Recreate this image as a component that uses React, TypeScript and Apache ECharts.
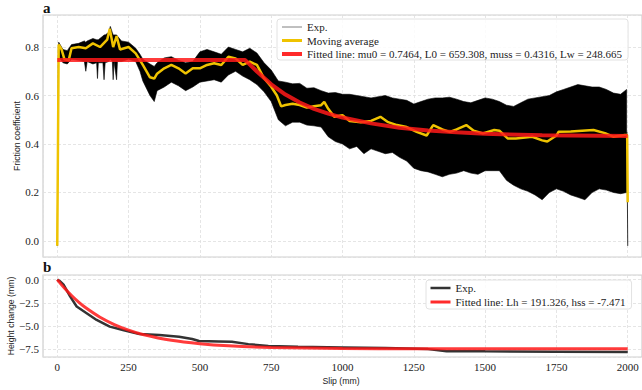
import React, { useEffect, useRef } from 'react';
import * as echarts from 'echarts';

// ---------- Panel a: friction coefficient ----------
// Envelope of the raw (Exp.) signal
const expSlip = [5, 20, 35, 50, 75, 95, 100, 105, 125, 138, 141, 144, 160, 164, 168, 180, 186, 193, 196, 199, 208, 211, 225, 250, 275, 290, 300, 325, 340, 350, 375, 400, 425, 450, 475, 500, 525, 550, 575, 600, 625, 650, 675, 700, 725, 750, 775, 800, 825, 850, 875, 900, 925, 950, 975, 1000, 1025, 1050, 1075, 1100, 1125, 1150, 1175, 1200, 1225, 1250, 1275, 1300, 1325, 1350, 1375, 1400, 1425, 1450, 1475, 1500, 1525, 1550, 1575, 1600, 1625, 1650, 1675, 1700, 1725, 1750, 1775, 1800, 1825, 1850, 1875, 1900, 1925, 1950, 1975, 1996];
const expHigh = [0.82, 0.79, 0.785, 0.81, 0.815, 0.825, 0.82, 0.825, 0.835, 0.83, 0.83, 0.83, 0.845, 0.85, 0.85, 0.86, 0.885, 0.86, 0.85, 0.85, 0.85, 0.845, 0.825, 0.82, 0.795, 0.77, 0.75, 0.73, 0.72, 0.735, 0.755, 0.76, 0.745, 0.735, 0.74, 0.78, 0.79, 0.78, 0.77, 0.8, 0.79, 0.78, 0.795, 0.775, 0.735, 0.705, 0.66, 0.655, 0.648, 0.65, 0.63, 0.632, 0.62, 0.61, 0.612, 0.605, 0.605, 0.6, 0.595, 0.59, 0.595, 0.6, 0.59, 0.585, 0.58, 0.565, 0.575, 0.585, 0.59, 0.59, 0.593, 0.585, 0.575, 0.57, 0.58, 0.59, 0.585, 0.575, 0.56, 0.555, 0.57, 0.585, 0.59, 0.595, 0.6, 0.615, 0.625, 0.635, 0.645, 0.64, 0.635, 0.635, 0.625, 0.61, 0.605, 0.625];
const expLow = [0.76, 0.735, 0.73, 0.75, 0.745, 0.74, 0.7, 0.74, 0.73, 0.735, 0.67, 0.735, 0.735, 0.665, 0.735, 0.74, 0.75, 0.74, 0.665, 0.74, 0.665, 0.74, 0.74, 0.75, 0.74, 0.7, 0.66, 0.6, 0.575, 0.62, 0.635, 0.655, 0.64, 0.62, 0.635, 0.655, 0.66, 0.665, 0.655, 0.685, 0.7, 0.68, 0.665, 0.645, 0.615, 0.575, 0.5, 0.475, 0.49, 0.49, 0.478, 0.475, 0.47, 0.43, 0.41, 0.4, 0.38, 0.39, 0.36, 0.38, 0.37, 0.36, 0.365, 0.345, 0.33, 0.3, 0.29, 0.285, 0.275, 0.265, 0.275, 0.28, 0.29, 0.28, 0.275, 0.29, 0.29, 0.29, 0.25, 0.23, 0.215, 0.205, 0.19, 0.17, 0.2, 0.215, 0.205, 0.19, 0.18, 0.17, 0.2, 0.215, 0.21, 0.2, 0.195, 0.2];
// Start and end transients of the raw signal
const expEdgeSlip = [0, 4, 1997, 2000];
const expEdgeValue = [-0.02, 0.8, 0.45, -0.02];

const maSlip = [0, 5, 15, 25, 40, 50, 75, 100, 125, 150, 175, 184, 196, 208, 220, 250, 275, 300, 325, 340, 350, 375, 400, 425, 450, 475, 500, 525, 550, 575, 600, 625, 650, 675, 700, 725, 750, 770, 785, 800, 825, 850, 875, 900, 925, 936, 950, 971, 1000, 1025, 1064, 1100, 1133, 1160, 1191, 1225, 1260, 1295, 1318, 1350, 1376, 1400, 1434, 1460, 1492, 1532, 1550, 1579, 1608, 1665, 1700, 1718, 1750, 1758, 1800, 1840, 1880, 1920, 1949, 1990, 1998, 2000];
const maValue = [-0.02, 0.81, 0.79, 0.75, 0.745, 0.795, 0.8, 0.795, 0.815, 0.8, 0.83, 0.875, 0.8, 0.845, 0.79, 0.8, 0.774, 0.726, 0.675, 0.67, 0.69, 0.712, 0.726, 0.712, 0.691, 0.712, 0.712, 0.726, 0.733, 0.726, 0.76, 0.753, 0.726, 0.74, 0.726, 0.671, 0.636, 0.6, 0.555, 0.561, 0.566, 0.561, 0.55, 0.556, 0.56, 0.574, 0.545, 0.512, 0.519, 0.495, 0.49, 0.495, 0.512, 0.49, 0.478, 0.47, 0.45, 0.435, 0.478, 0.46, 0.45, 0.46, 0.478, 0.455, 0.444, 0.458, 0.455, 0.423, 0.423, 0.43, 0.415, 0.41, 0.435, 0.451, 0.452, 0.455, 0.458, 0.445, 0.43, 0.437, 0.437, 0.16];

const fitSlip = [0, 659, 700, 750, 800, 850, 900, 950, 1000, 1100, 1200, 1300, 1400, 1500, 1700, 2000];
const fitValue = [0.746, 0.746, 0.699, 0.646, 0.604, 0.571, 0.545, 0.525, 0.509, 0.485, 0.467, 0.456, 0.448, 0.442, 0.436, 0.433];

// ---------- Panel b: height change ----------
const heightSlip = [0, 10, 22, 45, 68, 103, 138, 184, 230, 288, 358, 427, 473, 497, 566, 612, 670, 740, 844, 1000, 1150, 1300, 1365, 1500, 1750, 2000];
const heightExp = [0, -0.18, -0.54, -1.81, -2.9, -3.62, -4.35, -5.07, -5.43, -5.87, -5.98, -6.16, -6.41, -6.63, -6.67, -6.7, -6.96, -7.17, -7.25, -7.32, -7.38, -7.5, -7.72, -7.74, -7.77, -7.8];
const heightFitSlip = [0, 25, 50, 75, 100, 150, 200, 250, 300, 400, 500, 600, 750, 1000, 1250, 1500, 2000];
const heightFit = [0, -0.915, -1.718, -2.423, -3.041, -4.06, -4.844, -5.449, -5.913, -6.548, -6.923, -7.146, -7.323, -7.431, -7.46, -7.468, -7.471];

const legendTop = ['Exp.', 'Moving average', 'Fitted line: mu0 = 0.7464, L0 = 659.308, muss = 0.4316, Lw = 248.665'];
const legendBottom = ['Exp.', 'Fitted line: Lh = 191.326, hss = -7.471'];

const SERIF = 'Liberation Serif';
const SANS = 'Liberation Sans';
const GOLD = '#efc300';
const RED = 'rgba(255,25,25,0.85)';

const zip = (xs: number[], ys: number[]) => xs.map((x, i) => [x, ys[i]]);

export default function App() {
  const ref = useRef<HTMLDivElement>(null);
  useEffect(() => {
    if (!ref.current) return;
    const chart = echarts.init(ref.current, null, { renderer: 'svg' });
    const gridLine = { show: true, lineStyle: { color: '#dedede', width: 0.8, type: [3, 2] as any } };
    const labelStyle = { fontFamily: SERIF, fontSize: 11, color: '#222' };
    const xBase = {
      type: 'value', min: -50, max: 2050, minInterval: 250, maxInterval: 250,
      axisLine: { show: false }, axisTick: { show: false }, splitLine: gridLine,
    };
    const edgeData: any[] = [
      [expEdgeSlip[0], expEdgeValue[0]], [expEdgeSlip[1], expEdgeValue[1]], [1000, '-'],
      [expEdgeSlip[2], expEdgeValue[2]], [expEdgeSlip[3], expEdgeValue[3]],
    ];
    const hideSym = { opacity: 0 };
    const legendCommon = {
      orient: 'vertical', itemWidth: 20, itemHeight: 8,
      backgroundColor: 'rgba(255,255,255,0.85)', borderColor: '#e2e2e2', borderWidth: 1, borderRadius: 3,
      textStyle: { fontFamily: SERIF, fontSize: 11, color: '#222', lineHeight: 12 },
      selectedMode: false,
    };
    chart.setOption({
      animation: false,
      backgroundColor: '#fff',
      grid: [
        { left: 43, top: 15, width: 604, height: 242, show: true, borderColor: '#cfcfcf', borderWidth: 1.2, backgroundColor: '#fff' },
        { left: 43, top: 275, width: 604, height: 82, show: true, borderColor: '#cfcfcf', borderWidth: 1.2, backgroundColor: '#fff' },
      ],
      xAxis: [
        { ...xBase, gridIndex: 0, axisLabel: { show: false } },
        {
          ...xBase, gridIndex: 1,
          axisLabel: {
            ...labelStyle, margin: 4, showMinLabel: false, showMaxLabel: false,
            formatter: (v: number) => (Math.abs(v % 250) < 1e-6 ? String(v) : ''),
          },
        },
      ],
      yAxis: [
        {
          type: 'value', gridIndex: 0, min: -0.066, max: 0.932, minInterval: 0.2, maxInterval: 0.2,
          axisLine: { show: false }, axisTick: { show: false }, splitLine: gridLine,
          axisLabel: {
            ...labelStyle, margin: 4, showMinLabel: false, showMaxLabel: false,
            formatter: (v: number) => (Math.abs(v / 0.2 - Math.round(v / 0.2)) < 1e-6 ? (Math.abs(v) < 1e-9 ? '0.0' : v.toFixed(1)) : ''),
          },
        },
        {
          type: 'value', gridIndex: 1, min: -8.35, max: 0.5, minInterval: 2.5, maxInterval: 2.5,
          axisLine: { show: false }, axisTick: { show: false }, splitLine: gridLine,
          axisLabel: {
            ...labelStyle, margin: 4, showMinLabel: false, showMaxLabel: false,
            formatter: (v: number) => (Math.abs(v / 2.5 - Math.round(v / 2.5)) < 1e-6 ? (Math.abs(v) < 1e-9 ? '0.0' : v.toFixed(1).replace('-', '\u2212')) : ''),
          },
        },
      ],
      legend: [
        {
          ...legendCommon, left: 277, top: 19, itemGap: 1.5, padding: [2, 6, 0, 3],
          data: [
            { name: legendTop[0], itemStyle: hideSym, lineStyle: { color: '#808080', width: 1 } },
            { name: legendTop[1], itemStyle: hideSym, lineStyle: { color: GOLD, width: 3 } },
            { name: legendTop[2], itemStyle: hideSym, lineStyle: { color: '#ff2a2a', width: 4 } },
          ],
        },
        {
          ...legendCommon, left: 426, top: 280, itemGap: 2, padding: [2, 6, 1, 3],
          data: [
            { name: legendBottom[0], itemStyle: hideSym, lineStyle: { color: '#333', width: 2.5 } },
            { name: legendBottom[1], itemStyle: hideSym, lineStyle: { color: '#ff2a2a', width: 3 } },
          ],
        },
      ],
      graphic: [
        { type: 'text', x: 43, y: 0, style: { text: 'a', font: `bold 15px ${SERIF}`, fill: '#111' } },
        { type: 'text', x: 43, y: 259, style: { text: 'b', font: `bold 15px ${SERIF}`, fill: '#111' } },
        { type: 'text', x: 17, y: 136, rotation: Math.PI / 2, style: { text: 'Friction coefficient', font: `8.7px ${SANS}`, fill: '#222', align: 'center', verticalAlign: 'middle', textAlign: 'center', textVerticalAlign: 'middle' } },
        { type: 'text', x: 11, y: 316, rotation: Math.PI / 2, style: { text: 'Height change (mm)', font: `8.7px ${SANS}`, fill: '#222', align: 'center', verticalAlign: 'middle', textAlign: 'center', textVerticalAlign: 'middle' } },
        { type: 'text', x: 341, y: 381, style: { text: 'Slip (mm)', font: `8.7px ${SANS}`, fill: '#222', align: 'center', verticalAlign: 'middle', textAlign: 'center', textVerticalAlign: 'middle' } },
      ],
      series: [
        {
          name: 'Exp. band', type: 'custom', xAxisIndex: 0, yAxisIndex: 0, z: 1, silent: true,
          data: expSlip.map((s, i) => [s, expHigh[i], expLow[i]]),
          encode: { x: 0, y: [1, 2] },
          renderItem: (params: any, api: any) => {
            if (params.dataIndex !== 0) return { type: 'group', children: [] };
            const top = expSlip.map((s, i) => api.coord([s, expHigh[i]]));
            const bottom = expSlip.map((s, i) => api.coord([s, expLow[i]])).reverse();
            return { type: 'polygon', shape: { points: top.concat(bottom) }, style: { fill: '#000', stroke: '#000', lineWidth: 0.6 } };
          },
        },
        {
          name: legendTop[0], type: 'line', xAxisIndex: 0, yAxisIndex: 0, z: 2, symbol: 'none',
          data: edgeData, lineStyle: { color: '#000', width: 0.8 }, itemStyle: { color: '#000' },
        },
        {
          name: legendTop[1], type: 'line', xAxisIndex: 0, yAxisIndex: 0, z: 3, symbol: 'none',
          data: zip(maSlip, maValue), lineStyle: { color: GOLD, width: 2.5 }, itemStyle: { color: GOLD },
        },
        {
          name: legendTop[2], type: 'line', xAxisIndex: 0, yAxisIndex: 0, z: 4, symbol: 'none',
          data: zip(fitSlip, fitValue), lineStyle: { color: RED, width: 4 }, itemStyle: { color: '#ff2a2a' },
        },
        {
          name: legendBottom[0], type: 'line', xAxisIndex: 1, yAxisIndex: 1, z: 2, symbol: 'none',
          data: zip(heightSlip, heightExp), lineStyle: { color: '#333', width: 2.5 }, itemStyle: { color: '#333' },
        },
        {
          name: legendBottom[1], type: 'line', xAxisIndex: 1, yAxisIndex: 1, z: 3, symbol: 'none', smooth: 0.3,
          data: zip(heightFitSlip, heightFit), lineStyle: { color: RED, width: 3 }, itemStyle: { color: '#ff2a2a' },
        },
      ],
    });
    return () => chart.dispose();
  }, []);
  return <div ref={ref} style={{ position: 'absolute', left: 0, top: 0, width: 642, height: 390 }} />;
}
